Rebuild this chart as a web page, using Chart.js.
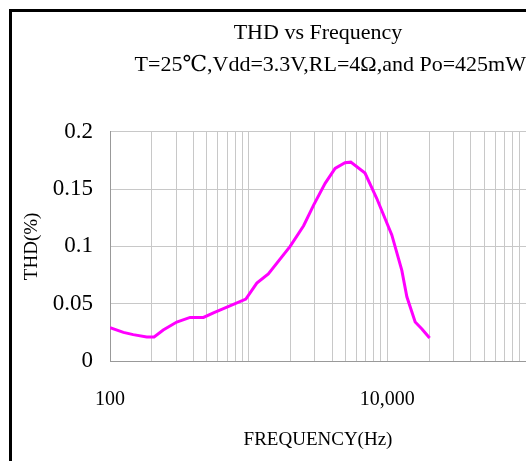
<!DOCTYPE html>
<html>
<head>
<meta charset="utf-8">
<script src="https://cdn.jsdelivr.net/npm/chart.js@4"></script>
<style>
  body { margin: 0; background: #fff; }
  canvas { display: block; }
</style>
</head>
<body>
<canvas id="thd" width="526" height="461"></canvas>
<script>
const freq = [100, 125, 147, 184, 208, 242, 303, 378, 472, 557, 697, 954, 1145, 1386, 1990, 2490, 2940, 3560, 4200, 4950, 5450, 6900, 8380, 10770, 12720, 13830, 15880, 17760, 20180]
const thd = [0.029, 0.025, 0.023, 0.021, 0.021, 0.027, 0.034, 0.038, 0.038, 0.042, 0.047, 0.054, 0.068, 0.076, 0.100, 0.118, 0.136, 0.155, 0.168, 0.173, 0.1735, 0.164, 0.142, 0.110, 0.079, 0.056, 0.034, 0.028, 0.020]

const decades = [100, 1000, 10000]
const xLabels = {100: "100", 10000: "10,000"}
const yTicks = [0, 0.05, 0.1, 0.15, 0.2]

// 1..9 gridlines in every decade, then the 100k edge
const xTicks = []
decades.forEach(d => { for (let k = 1; k < 10; k++) xTicks.push(k * d) })
xTicks.push(100000)

const serif = "'Liberation Serif', 'DejaVu Serif', serif"

const frame = {
    id: "frame",
    afterDraw(chart) {
        const c = chart.ctx
        c.save()
        c.fillStyle = "#000"
        c.fillRect(9, 9, 3, chart.height - 9)
        c.fillRect(9, 9, chart.width - 9, 3)
        c.restore()
    }
}

const ctx = document.getElementById("thd")
const myChart = new Chart(ctx, {
    type: "scatter",
    data: {
        datasets: [{
            data: freq.map((f, i) => ({x: f, y: thd[i]})),
            showLine: true,
            borderColor: "#ff00ff",
            borderWidth: 3,
            pointRadius: 0,
            tension: 0
        }]
    },
    options: {
        responsive: false,
        animation: false,
        layout: {padding: 0},
        plugins: {
            legend: {display: false},
            tooltip: {enabled: false},
            title: {
                display: true,
                fullSize: false,
                text: "THD vs Frequency",
                color: "#000",
                font: {family: serif, size: 22, weight: "normal"},
                padding: {top: 20, bottom: 6}
            },
            subtitle: {
                display: true,
                fullSize: false,
                align: "end",
                text: "T=25\u2103,Vdd=3.3V,RL=4\u03a9,and Po=425mW",
                color: "#000",
                font: {family: serif, size: 22},
                padding: {top: 0, bottom: 53}
            }
        },
        scales: {
            x: {
                type: "logarithmic",
                min: 100,
                max: 100000,
                afterBuildTicks: scale => { scale.ticks = xTicks.map(v => ({value: v})) },
                afterFit: scale => {
                    scale.height = 100
                    scale.paddingRight = 0
                },
                ticks: {
                    autoSkip: false,
                    maxRotation: 0,
                    padding: 27,
                    color: "#000",
                    font: {family: serif, size: 20},
                    callback: v => xLabels[v] || ""
                },
                grid: {color: "#c8c8c8", drawTicks: false},
                border: {color: "#999"},
                title: {
                    display: true,
                    text: "FREQUENCY(Hz)",
                    color: "#000",
                    font: {family: serif, size: 19},
                    padding: {top: 17, bottom: 10}
                }
            },
            y: {
                min: 0,
                max: 0.2,
                afterFit: scale => { scale.width = 110 },
                afterBuildTicks: scale => { scale.ticks = yTicks.map(v => ({value: v})) },
                ticks: {
                    padding: 17,
                    color: "#000",
                    font: {family: serif, size: 23},
                    callback: v => String(v)
                },
                grid: {color: "#c8c8c8", drawTicks: false},
                border: {color: "#999"},
                title: {
                    display: true,
                    text: "THD(%)",
                    color: "#000",
                    font: {family: serif, size: 19},
                    padding: {top: 21, bottom: 0}
                }
            }
        }
    },
    plugins: [frame]
});
</script>
</body>
</html>
